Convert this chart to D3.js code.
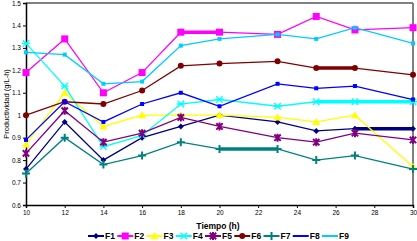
<!DOCTYPE html>
<html>
<head>
<meta charset="utf-8">
<script src="https://cdn.jsdelivr.net/npm/d3@7"></script>
<style>
  html, body { margin: 0; padding: 0; background: #fff; }
  svg { display: block; font-family: Arial, "Liberation Sans", sans-serif; }
</style>
</head>
<body>
<svg id="chart" width="417" height="241"></svg>
<script>
// Productividad vs tiempo, nine fermentations F1..F9
const times = [10, 12, 14, 16, 18, 20, 23, 25, 27, 30];
const xTicks = [10, 12, 14, 16, 18, 20, 22, 24, 26, 28, 30];
const yTicks = [0.6, 0.7, 0.8, 0.9, 1.0, 1.1, 1.2, 1.3, 1.4, 1.5];

const F1 = [0.76, 0.97, 0.80, 0.90, 0.95, 1.00, 0.97, 0.93, 0.94, 0.94];
const F2 = [1.19, 1.34, 1.10, 1.19, 1.37, 1.37, 1.36, 1.44, 1.38, 1.39];
const F3 = [0.87, 1.10, 0.95, 1.00, 1.00, 1.00, 0.99, 0.97, 1.00, 0.77];
const F4 = [1.32, 1.13, 0.86, 0.91, 1.05, 1.07, 1.04, 1.06, 1.06, 1.06];
const F5 = [0.83, 1.02, 0.88, 0.92, 0.99, 0.95, 0.90, 0.88, 0.92, 0.89];
const F6 = [1.00, 1.06, 1.05, 1.11, 1.22, 1.23, 1.24, 1.21, 1.21, 1.18];
const F7 = [0.74, 0.90, 0.78, 0.82, 0.88, 0.85, 0.85, 0.80, 0.82, 0.76];
const F8 = [0.89, 1.06, 0.97, 1.05, 1.10, 1.04, 1.14, 1.12, 1.13, 1.07];
const F9 = [1.28, 1.27, 1.14, 1.15, 1.31, 1.34, 1.36, 1.34, 1.39, 1.32];

const seriesNames = ["F1", "F2", "F3", "F4", "F5", "F6", "F7", "F8", "F9"];
const seriesValues = [F1, F2, F3, F4, F5, F6, F7, F8, F9];
// segments drawn heavier in the original (start index, end index)
const heavySegments = { F1: [[8, 9]], F2: [[4, 5]], F4: [[7, 9]], F6: [[7, 8]], F7: [[5, 6]] };

(function () {
  const style = {
    F1: { color: "#000080", marker: "diamond" },
    F2: { color: "#FF00FF", marker: "square" },
    F3: { color: "#FFFF00", marker: "triangle" },
    F4: { color: "#00FFFF", marker: "xstar" },
    F5: { color: "#800080", marker: "star" },
    F6: { color: "#800000", marker: "circle" },
    F7: { color: "#008080", marker: "plus" },
    F8: { color: "#0000FF", marker: "dot" },
    F9: { color: "#00CCFF", marker: "dot" }
  };

  const svg = d3.select("#chart");
  const m = { left: 26, right: 413, top: 3, bottom: 205 };

  const x = d3.scaleLinear().domain([10, 30]).range([m.left, m.right]);
  const y = d3.scaleLinear().domain([0.6, 1.5]).range([m.bottom, m.top]);

  // frame: gray top and right
  svg.append("line").attr("x1", m.left).attr("x2", m.right).attr("y1", m.top).attr("y2", m.top)
    .attr("stroke", "#808080").attr("stroke-width", 2);
  svg.append("line").attr("x1", m.right).attr("x2", m.right).attr("y1", m.top).attr("y2", m.bottom)
    .attr("stroke", "#808080").attr("stroke-width", 2);

  // axes
  const yAxis = svg.append("g").attr("transform", `translate(${m.left},0)`)
    .call(d3.axisLeft(y).tickValues(yTicks).tickSize(3).tickPadding(2)
      .tickFormat(d => d === 1 ? "1" : d3.format(".1f")(d)));
  const xAxis = svg.append("g").attr("transform", `translate(0,${m.bottom})`)
    .call(d3.axisBottom(x).tickValues(xTicks).tickSize(3).tickPadding(2));
  [yAxis, xAxis].forEach(a => {
    a.select(".domain").attr("stroke", "#000").attr("stroke-width", 1.5);
    a.selectAll(".tick line").attr("stroke", "#000");
    a.selectAll("text").attr("font-size", 6.5).attr("fill", "#000").attr("font-family", "Arial, Liberation Sans, sans-serif");
  });

  // titles
  svg.append("text").attr("x", 218).attr("y", 229).attr("text-anchor", "middle")
    .attr("font-size", 8.5).attr("font-weight", "bold").text("Tiempo (h)");
  svg.append("text").attr("transform", `translate(9,${(m.top + m.bottom) / 2}) rotate(-90)`)
    .attr("text-anchor", "middle").attr("font-size", 7.5).text("Productividad (g/L-h)");

  function drawMarker(g, type, color, cx, cy) {
    const s = 3.2;
    if (type === "square") {
      g.append("rect").attr("x", cx - 3.5).attr("y", cy - 3.5).attr("width", 7).attr("height", 7).attr("fill", color);
    } else if (type === "diamond") {
      g.append("path").attr("d", `M${cx},${cy - 3}L${cx + 3},${cy}L${cx},${cy + 3}L${cx - 3},${cy}Z`).attr("fill", color);
    } else if (type === "triangle") {
      g.append("path").attr("d", `M${cx},${cy - 4}L${cx + 4},${cy + 3}L${cx - 4},${cy + 3}Z`).attr("fill", color);
    } else if (type === "circle") {
      g.append("circle").attr("cx", cx).attr("cy", cy).attr("r", 3).attr("fill", color);
    } else if (type === "dot") {
      g.append("rect").attr("x", cx - 2).attr("y", cy - 2).attr("width", 4).attr("height", 4).attr("fill", color);
    } else if (type === "plus") {
      g.append("path").attr("d", `M${cx - 4},${cy}H${cx + 4}M${cx},${cy - 4}V${cy + 4}`)
        .attr("stroke", color).attr("stroke-width", 2);
    } else if (type === "xstar") {
      g.append("path").attr("d", `M${cx - s},${cy - s}L${cx + s},${cy + s}M${cx - s},${cy + s}L${cx + s},${cy - s}M${cx - 4},${cy}H${cx + 4}`)
        .attr("stroke", color).attr("stroke-width", 1.3);
    } else if (type === "star") {
      g.append("path").attr("d", `M${cx - s},${cy - s}L${cx + s},${cy + s}M${cx - s},${cy + s}L${cx + s},${cy - s}M${cx},${cy - 4}V${cy + 4}`)
        .attr("stroke", color).attr("stroke-width", 2);
    }
  }

  const line = d3.line().x(d => x(d.t)).y(d => y(d.v));

  seriesNames.forEach((name, i) => {
    const pts = times.map((t, j) => ({ t, v: seriesValues[i][j] }));
    const st = style[name];
    const g = svg.append("g");
    g.append("path").datum(pts).attr("d", line).attr("fill", "none")
      .attr("stroke", st.color).attr("stroke-width", 1.3);
    (heavySegments[name] || []).forEach(([a, b]) => {
      g.append("path").datum(pts.slice(a, b + 1)).attr("d", line).attr("fill", "none")
        .attr("stroke", st.color).attr("stroke-width", 3.5);
    });
    pts.forEach(p => drawMarker(g, st.marker, st.color, x(p.t), y(p.v)));
  });

  // legend
  const legend = svg.append("g");
  seriesNames.forEach((name, i) => {
    const st = style[name];
    const lx = 88 + i * 29.25, ly = 236;
    legend.append("line").attr("x1", lx).attr("x2", lx + 16).attr("y1", ly).attr("y2", ly)
      .attr("stroke", st.color).attr("stroke-width", 2);
    if (st.marker !== "dot") drawMarker(legend, st.marker, st.color, lx + 8, ly);
    legend.append("text").attr("x", lx + 17).attr("y", ly + 3).attr("font-size", 8.5)
      .attr("font-weight", "bold").text(name);
  });
})();
</script>
</body>
</html>
